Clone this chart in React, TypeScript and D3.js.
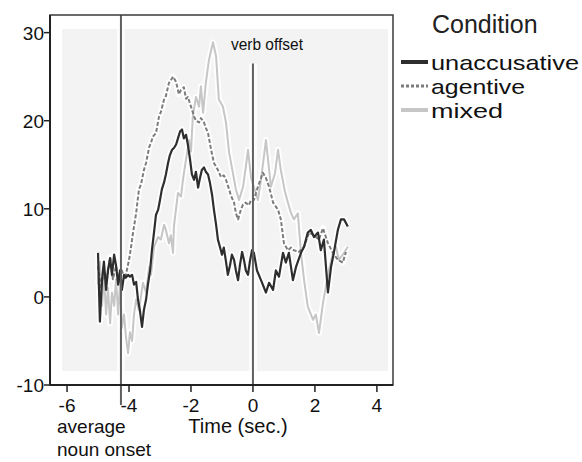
import React from "react";
import * as d3 from "d3";

const yTicks = [30, 20, 10, 0, -10];
const xTicks = [-6, -4, -2, 0, 2, 4];
const nounOnset = -4.26;
const verbOffset = 0;

const seriesNames = ["unaccusative", "agentive", "mixed"];

const unaccusative: [number, number][] = [
  [-5.0, 5.0], [-4.94, -2.8], [-4.87, 2.0], [-4.81, 4.0], [-4.74, 0.8], [-4.68, 3.0],
  [-4.61, 4.4], [-4.55, 2.5], [-4.48, 4.8], [-4.42, 3.6], [-4.35, 1.4], [-4.29, 3.0],
  [-4.23, 0.8], [-4.16, 2.5], [-4.1, 2.2], [-4.03, 2.5], [-3.97, 2.3], [-3.9, 2.5],
  [-3.84, 1.4], [-3.77, 1.7], [-3.71, -0.3], [-3.65, -1.5], [-3.58, -3.4], [-3.52, -1.5],
  [-3.45, -0.3], [-3.39, 1.4], [-3.32, 3.0], [-3.26, 5.3], [-3.19, 7.4], [-3.13, 9.3],
  [-3.06, 9.9], [-3.0, 11.0], [-2.94, 12.2], [-2.87, 13.0], [-2.81, 13.9], [-2.74, 15.2],
  [-2.68, 16.1], [-2.61, 16.7], [-2.55, 16.9], [-2.48, 17.3], [-2.42, 18.0], [-2.35, 18.8],
  [-2.29, 19.0], [-2.23, 18.0], [-2.16, 18.4], [-2.1, 17.3], [-2.03, 15.6], [-1.97, 13.9],
  [-1.9, 13.3], [-1.84, 14.2], [-1.77, 12.4], [-1.71, 13.5], [-1.65, 14.4], [-1.58, 14.7],
  [-1.52, 14.2], [-1.45, 13.9], [-1.39, 13.0], [-1.32, 11.6], [-1.26, 9.9], [-1.19, 8.2],
  [-1.13, 6.5], [-1.06, 5.6], [-1.0, 4.8], [-0.94, 5.6], [-0.87, 4.0], [-0.81, 2.5],
  [-0.74, 3.6], [-0.68, 4.8], [-0.61, 4.2], [-0.55, 3.0], [-0.48, 1.9], [-0.42, 3.6],
  [-0.35, 5.1], [-0.29, 4.2], [-0.23, 3.0], [-0.16, 2.5], [-0.1, 4.0], [-0.03, 5.3],
  [0.03, 5.0], [0.13, 3.0], [0.26, 1.9], [0.42, 0.5], [0.52, 1.6], [0.65, 0.8],
  [0.74, 3.0], [0.84, 2.3], [0.97, 5.0], [1.06, 3.9], [1.16, 5.0], [1.29, 1.9],
  [1.39, 3.4], [1.55, 5.0], [1.65, 5.7], [1.77, 7.3], [1.87, 7.6], [1.97, 6.8],
  [2.1, 7.3], [2.19, 5.3], [2.29, 6.5], [2.42, 0.5], [2.52, 3.4], [2.61, 5.0],
  [2.74, 7.6], [2.84, 8.8], [2.94, 8.8], [3.06, 8.0],
];

const agentive: [number, number][] = [
  [-5.0, 3.5], [-4.9, 1.0], [-4.81, 3.0], [-4.71, 2.0], [-4.61, 4.5], [-4.52, 2.0],
  [-4.42, 3.5], [-4.32, 1.5], [-4.23, 3.0], [-4.13, 2.0], [-4.0, 4.2], [-3.94, 5.5],
  [-3.87, 7.3], [-3.77, 9.5], [-3.68, 12.2], [-3.61, 12.8], [-3.52, 14.4], [-3.45, 15.2],
  [-3.35, 17.0], [-3.29, 17.5], [-3.23, 18.2], [-3.13, 18.6], [-3.03, 20.5], [-2.97, 21.0],
  [-2.87, 22.4], [-2.81, 22.8], [-2.71, 24.3], [-2.65, 24.6], [-2.58, 25.0], [-2.48, 24.4],
  [-2.39, 23.0], [-2.32, 23.5], [-2.23, 23.8], [-2.16, 22.5], [-2.1, 22.7], [-2.0, 21.6],
  [-1.9, 20.5], [-1.84, 20.0], [-1.74, 19.8], [-1.68, 20.3], [-1.58, 19.8], [-1.52, 19.2],
  [-1.45, 18.6], [-1.35, 16.7], [-1.26, 15.2], [-1.19, 14.8], [-1.13, 14.4], [-1.03, 13.6],
  [-0.94, 13.8], [-0.87, 13.3], [-0.77, 12.2], [-0.71, 11.5], [-0.61, 10.7], [-0.55, 9.5],
  [-0.48, 8.8], [-0.39, 9.9], [-0.32, 10.5], [-0.23, 10.7], [-0.13, 10.4], [-0.06, 11.0],
  [0.03, 11.0], [0.16, 12.5], [0.26, 13.5], [0.32, 14.1], [0.42, 13.5], [0.52, 12.5],
  [0.65, 10.7], [0.81, 9.9], [0.9, 8.8], [1.0, 6.1], [1.13, 5.3], [1.23, 5.6],
  [1.32, 5.3], [1.48, 5.1], [1.65, 5.7], [1.81, 7.3], [1.97, 7.0], [2.13, 6.5],
  [2.26, 7.8], [2.42, 6.1], [2.58, 5.0], [2.74, 4.2], [2.9, 3.9], [3.0, 5.1],
];

const mixed: [number, number][] = [
  [-5.0, 1.4], [-4.94, 4.0], [-4.87, -1.0], [-4.81, 2.5], [-4.74, -2.0], [-4.68, 1.0],
  [-4.61, -3.0], [-4.55, 0.5], [-4.48, -1.0], [-4.42, 2.0], [-4.35, -2.0], [-4.29, 1.5],
  [-4.23, -3.5], [-4.16, -2.0], [-4.1, -4.5], [-4.03, -6.4], [-3.97, -4.0], [-3.9, -5.0],
  [-3.84, -2.0], [-3.77, -0.3], [-3.68, -1.5], [-3.55, 1.6], [-3.45, 0.5], [-3.35, 3.4],
  [-3.29, 2.5], [-3.19, 5.7], [-3.06, 6.8], [-2.97, 6.5], [-2.87, 8.2], [-2.81, 7.6],
  [-2.71, 6.1], [-2.65, 7.0], [-2.58, 5.0], [-2.55, 8.0], [-2.42, 11.8], [-2.32, 11.4],
  [-2.26, 13.3], [-2.16, 15.6], [-2.06, 17.8], [-2.0, 16.5], [-1.94, 20.5], [-1.84, 22.7],
  [-1.74, 21.6], [-1.68, 23.9], [-1.61, 20.9], [-1.52, 24.3], [-1.42, 26.9], [-1.29, 28.9],
  [-1.19, 27.3], [-1.1, 22.4], [-0.97, 21.6], [-0.87, 19.8], [-0.77, 16.4], [-0.65, 14.1],
  [-0.55, 12.2], [-0.45, 11.0], [-0.32, 12.5], [-0.23, 14.8], [-0.16, 16.7], [-0.06, 13.5],
  [0.03, 12.5], [0.16, 11.0], [0.26, 13.3], [0.42, 17.8], [0.58, 12.5], [0.71, 14.0],
  [0.81, 16.7], [0.9, 14.4], [1.03, 12.0], [1.13, 10.7], [1.23, 9.5], [1.32, 8.8],
  [1.45, 9.5], [1.55, 5.0], [1.65, 1.9], [1.77, -1.1], [1.94, -2.6], [2.03, -2.0],
  [2.13, -4.1], [2.26, -0.7], [2.35, 1.1], [2.45, 3.0], [2.58, 5.0], [2.68, 5.7],
  [2.77, 4.2], [2.94, 5.0], [3.06, 5.7],
];

const W = 582;
const H = 462;
const FONT = "'Liberation Sans', Arial, sans-serif";

export default function App() {
  const x = d3.scaleLinear().domain([-6.55, 4.52]).range([50, 393]);
  const y = d3.scaleLinear().domain([-10, 32]).range([385, 15]);
  const line = d3
    .line<[number, number]>()
    .x((d) => x(d[0]))
    .y((d) => y(d[1]));

  const styles = [
    { data: unaccusative, color: "#2e2e2e", width: 2.2, dash: undefined as string | undefined },
    { data: agentive, color: "#7c7c7c", width: 2, dash: "4,2" },
    { data: mixed, color: "#c6c6c6", width: 2, dash: undefined as string | undefined },
  ];
  const drawOrder = [2, 1, 0];
  const legendWidths = [148, 94, 72];

  const [x0, x1] = x.range();
  const [yb, yt] = y.range();

  return (
    <svg
      width={W}
      height={H}
      style={{ position: "absolute", left: 0, top: 0, background: "#fff" }}
      fontFamily={FONT}
    >
      <rect x={0} y={0} width={W} height={H} fill="#ffffff" />
      {/* inner shaded area */}
      <rect x={x0 + 12} y={yt + 14} width={x1 - x0 - 17} height={yb - yt - 28} fill="#f3f3f3" />

      {/* reference lines halo */}
      <line x1={x(nounOnset)} x2={x(nounOnset)} y1={yt} y2={yb + 20} stroke="#fff" strokeWidth={8} opacity={0.8} />
      <line x1={x(verbOffset)} x2={x(verbOffset)} y1={y(26.5)} y2={yb} stroke="#fff" strokeWidth={8} opacity={0.8} />

      {/* series halos */}
      {drawOrder.map((i) => (
        <path
          key={"h" + i}
          d={line(styles[i].data) || ""}
          fill="none"
          stroke="#ffffff"
          strokeWidth={6}
          strokeLinejoin="round"
          opacity={0.85}
        />
      ))}
      {drawOrder.map((i) => (
        <path
          key={"s" + i}
          d={line(styles[i].data) || ""}
          fill="none"
          stroke={styles[i].color}
          strokeWidth={styles[i].width}
          strokeDasharray={styles[i].dash}
          strokeLinejoin="round"
        />
      ))}

      {/* reference lines */}
      <line x1={x(nounOnset)} x2={x(nounOnset)} y1={yt} y2={yb + 20} stroke="#606060" strokeWidth={2} />
      <line x1={x(verbOffset)} x2={x(verbOffset)} y1={y(26.5)} y2={yb} stroke="#606060" strokeWidth={2} />

      {/* frame */}
      <rect x={x0} y={yt} width={x1 - x0} height={yb - yt} fill="none" stroke="#3a3a3a" strokeWidth={1.5} />
      <line x1={x0} x2={x0} y1={yt} y2={yb} stroke="#222" strokeWidth={2} />
      <line x1={x0} x2={x1} y1={yb} y2={yb} stroke="#222" strokeWidth={2} />

      {/* y ticks */}
      {yTicks.map((v) => (
        <g key={"y" + v}>
          <line x1={x0 - 6} x2={x0} y1={y(v)} y2={y(v)} stroke="#222" strokeWidth={1.5} />
          <text x={x0 - 6} y={y(v) + 7} textAnchor="end" fontSize={19} fill="#111">
            {v}
          </text>
        </g>
      ))}

      {/* x ticks */}
      {xTicks.map((v) => (
        <g key={"x" + v}>
          <line x1={x(v)} x2={x(v)} y1={yb} y2={yb + 7} stroke="#222" strokeWidth={1.5} />
          <text x={x(v)} y={yb + 27} textAnchor="middle" fontSize={19} fill="#111">
            {v}
          </text>
        </g>
      ))}

      <text x={238} y={433} textAnchor="middle" fontSize={20} fill="#111">
        Time (sec.)
      </text>
      <text x={57} y={433} fontSize={19} fill="#111">
        average
      </text>
      <text x={57} y={456} fontSize={19} fill="#111">
        noun onset
      </text>
      <text x={x(verbOffset) - 22} y={50} fontSize={17} fill="#111" textLength={72} lengthAdjust="spacingAndGlyphs">
        verb offset
      </text>

      {/* legend */}
      <text x={432} y={33} fontSize={25} fill="#222">
        Condition
      </text>
      {seriesNames.map((name, i) => (
        <g key={name}>
          <line
            x1={401}
            x2={428}
            y1={62 + i * 24}
            y2={62 + i * 24}
            stroke={styles[i].color}
            strokeWidth={i === 1 ? 3 : 4}
            strokeDasharray={i === 1 ? "3,2" : undefined}
          />
          <text
            x={431}
            y={70 + i * 24}
            fontSize={21}
            fill="#111"
            textLength={legendWidths[i]}
            lengthAdjust="spacingAndGlyphs"
          >
            {name}
          </text>
        </g>
      ))}
    </svg>
  );
}
